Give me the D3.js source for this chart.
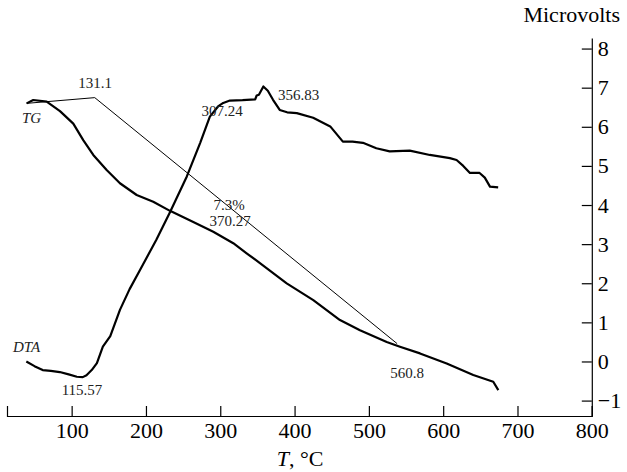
<!DOCTYPE html>
<html>
<head>
<meta charset="utf-8">
<script src="https://cdn.jsdelivr.net/npm/d3@7"></script>
<style>
body { margin: 0; background: #fff; }
text { font-family: "Liberation Serif", "Times New Roman", serif; }
</style>
</head>
<body>
<script>
// DTA curve, microvolts vs T (°C)
var dtaT = [39,50,61,72,84,96,107,115,120,127,134,142,152,165,178,192,214,232,255,273,286,297,304,313,330,347,349,352,358,364,371,380,390,403,425,448,465,478,492,510,528,555,582,609,618,627,636,649,656,663,674];
var dtaV = [0.00,-0.12,-0.22,-0.24,-0.27,-0.33,-0.39,-0.40,-0.35,-0.22,-0.04,0.38,0.65,1.32,1.85,2.34,3.11,3.80,4.73,5.59,6.26,6.52,6.61,6.67,6.68,6.70,6.80,6.82,7.03,6.92,6.69,6.43,6.37,6.35,6.23,6.01,5.62,5.62,5.59,5.45,5.37,5.39,5.28,5.20,5.15,5.00,4.82,4.82,4.70,4.47,4.45];

// TG curve, mass % vs T (°C)
var tgT = [39.4,48.3,66.4,84.3,102.2,115.6,129.1,147.1,165,187.5,209.8,232.3,263.7,290.6,317.5,335.5,353.4,389.4,425.2,461.1,488,524,541.8,568.8,604.7,640.5,667.4,674.2];
var tgM = [99.93,100.03,99.98,99.70,99.33,98.84,98.40,97.95,97.56,97.21,97.01,96.74,96.41,96.12,95.78,95.48,95.19,94.59,94.09,93.50,93.20,92.85,92.71,92.51,92.21,91.87,91.67,91.42];

// TG step construction line
var stepT = [39.4,131.1,538];
var stepM = [99.93,100.1,92.8];

var xTicks = [100,200,300,400,500,600,700,800];
var yTicks = [-1,0,1,2,3,4,5,6,7,8];

var svg = d3.select("body").append("svg").attr("width",627).attr("height",472);

var x = d3.scaleLinear().domain([13,800]).range([7,591.8]);
var y = d3.scaleLinear().domain([-1.394,8.27]).range([416,38]);
var yTG = d3.scaleLinear().domain([100,90]).range([101,438]);

var xAxis = d3.axisBottom(x).tickValues(xTicks).tickSizeInner(-10).tickSizeOuter(-10).tickPadding(6);
var gx = svg.append("g").attr("transform","translate(0,416)").call(xAxis);
gx.selectAll("text").style("font-size","22px").attr("fill","#000");

var yAxis = d3.axisRight(y).tickValues(yTicks).tickSizeInner(-10).tickSizeOuter(0).tickPadding(6)
    .tickFormat(function(d) { return d < 0 ? "\u2212" + Math.abs(d) : d; });
var gy = svg.append("g").attr("transform","translate(591.8,0)").call(yAxis);
gy.selectAll("text").style("font-size","22px").attr("fill","#000");

svg.selectAll(".domain, .tick line").attr("stroke","#000").attr("stroke-width",1.2);

var dtaLine = d3.line().x(function(d,i) { return x(dtaT[i]); }).y(function(d) { return y(d); });
var tgLine = d3.line().x(function(d,i) { return x(tgT[i]); }).y(function(d) { return yTG(d); });
var stepLine = d3.line().x(function(d,i) { return x(stepT[i]); }).y(function(d) { return yTG(d); });

svg.append("path").datum(stepM).attr("d",stepLine).attr("fill","none").attr("stroke","#000").attr("stroke-width",1);
svg.append("path").datum(dtaV).attr("d",dtaLine).attr("fill","none").attr("stroke","#000").attr("stroke-width",2.2).attr("stroke-linejoin","round");
svg.append("path").datum(tgM).attr("d",tgLine).attr("fill","none").attr("stroke","#000").attr("stroke-width",2.2).attr("stroke-linejoin","round");

svg.append("text").attr("x",620).attr("y",22).attr("text-anchor","end").style("font-size","22px").text("Microvolts");

var xl = svg.append("text").attr("x",300).attr("y",466).attr("text-anchor","middle").style("font-size","22px");
xl.append("tspan").style("font-style","italic").text("T");
xl.append("tspan").text(", \u00B0C");

var notes = [
  {t:"131.1", x:95, y:88, a:"middle", i:false},
  {t:"307.24", x:222, y:116, a:"middle", i:false},
  {t:"356.83", x:278, y:100, a:"start", i:false},
  {t:"TG", x:22, y:123, a:"start", i:true},
  {t:"DTA", x:13, y:352, a:"start", i:true},
  {t:"115.57", x:82, y:395, a:"middle", i:false},
  {t:"7.3%", x:229, y:210, a:"middle", i:false},
  {t:"370.27", x:230, y:226, a:"middle", i:false},
  {t:"560.8", x:407, y:378, a:"middle", i:false}
];
svg.selectAll("text.note").data(notes).enter().append("text")
  .attr("class","note")
  .attr("x",function(d) { return d.x; })
  .attr("y",function(d) { return d.y; })
  .attr("text-anchor",function(d) { return d.a; })
  .style("font-style",function(d) { return d.i ? "italic" : "normal"; })
  .style("font-size","15px")
  .attr("fill","#222")
  .text(function(d) { return d.t; });
</script>
</body>
</html>
